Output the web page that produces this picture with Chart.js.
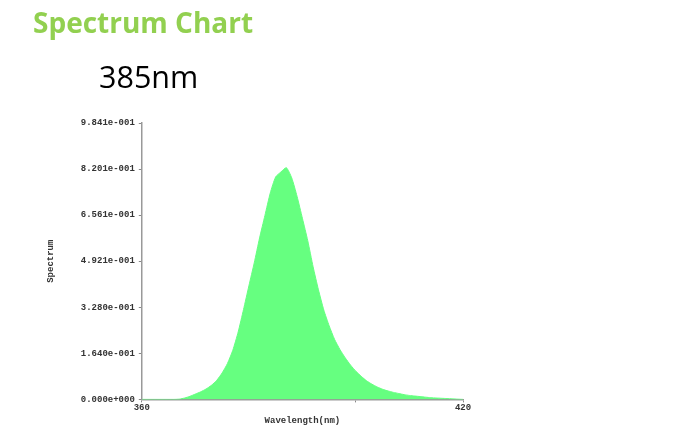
<!DOCTYPE html>
<html>
<head>
<meta charset="utf-8">
<script src="https://cdn.jsdelivr.net/npm/chart.js@4"></script>
<style>
html,body{margin:0;padding:0;background:#fff;}
#wrap{position:relative;width:700px;height:432px;overflow:hidden;}
#t1{position:absolute;left:33px;top:3px;font-family:"Open Sans",sans-serif;font-weight:700;font-size:28px;color:#92d050;white-space:nowrap;}
#t2{position:absolute;left:99px;top:55px;font-family:"Open Sans",sans-serif;font-weight:400;font-size:30.5px;color:#000;white-space:nowrap;}
canvas{position:absolute;left:0;top:0;}
</style>
</head>
<body>
<div id="wrap">
<canvas id="c" width="700" height="432"></canvas>
<div id="t1">Spectrum Chart</div>
<div id="t2">385nm</div>
</div>
<script>
const wavelengths = [360,361,362,363,364,365,366,367,368,369,370,371,372,373,374,375,376,377,378,379,380,381,382,383,384,385,386,387,388,389,390,391,392,393,394,395,396,397,398,399,400,401,402,403,404,405,406,407,408,409,410,411,412,413,414,415,416,417,418,419,420];
const spectrum = [0,0,0,0,0,0,0,0.001,0.005,0.011,0.019,0.027,0.037,0.050,0.068,0.094,0.128,0.175,0.240,0.320,0.404,0.486,0.575,0.655,0.735,0.792,0.810,0.825,0.789,0.723,0.645,0.565,0.472,0.390,0.318,0.262,0.214,0.178,0.148,0.122,0.100,0.082,0.066,0.054,0.044,0.036,0.030,0.025,0.021,0.017,0.014,0.012,0.010,0.008,0.006,0.005,0.004,0.003,0.002,0.001,0];
const yTickValues = [0, 0.1640, 0.3280, 0.4921, 0.6561, 0.8201, 0.9841];
const yTickLabels = ['0.000e+000','1.640e-001','3.280e-001','4.921e-001','6.561e-001','8.201e-001','9.841e-001'];
const xTickValues = [360, 400, 420];
const xTickLabels = ['360', '', '420'];

const points = wavelengths.map((w,i)=>({x:w, y:spectrum[i]}));
const mono = {family:'"Liberation Mono", "DejaVu Sans Mono", monospace', size:9, weight:'bold'};

new Chart(document.getElementById('c'), {
  type:'line',
  data:{datasets:[{
    data:points,
    fill:'origin',
    backgroundColor:'#66ff80',
    borderColor:'#66ff80',
    borderWidth:1,
    pointRadius:0,
    tension:0.2
  }]},
  options:{
    responsive:false,
    animation:false,
    layout:{padding:{left:45,right:237,top:123,bottom:6}},
    plugins:{legend:{display:false},tooltip:{enabled:false}},
    scales:{
      x:{
        type:'linear', min:360, max:420,
        afterBuildTicks:(s)=>{ s.ticks = xTickValues.map(v=>({value:v})); },
        ticks:{font:mono,color:'#333',maxRotation:0,autoSkip:false,padding:0,
          callback:(v)=>{ const i = xTickValues.indexOf(v); return i>=0 ? xTickLabels[i] : ''; }},
        grid:{display:true,drawOnChartArea:false,drawTicks:true,tickLength:3,color:'#888'},
        border:{display:true,color:'#999',width:1.5},
        title:{display:true,text:'Wavelength(nm)',font:mono,color:'#333',padding:{top:2,bottom:0}}
      },
      y:{
        min:0, max:0.9841,
        afterBuildTicks:(s)=>{ s.ticks = yTickValues.map(v=>({value:v})); },
        ticks:{font:mono,color:'#333',autoSkip:false,padding:4,
          callback:(v)=>{ const i = yTickValues.indexOf(v); return i>=0 ? yTickLabels[i] : ''; }},
        grid:{display:true,drawOnChartArea:false,drawTicks:true,tickLength:3,color:'#888'},
        border:{display:true,color:'#999',width:1.5},
        title:{display:true,text:'Spectrum',font:mono,color:'#333',padding:{top:0,bottom:21}}
      }
    }
  }
});
</script>
</body>
</html>
